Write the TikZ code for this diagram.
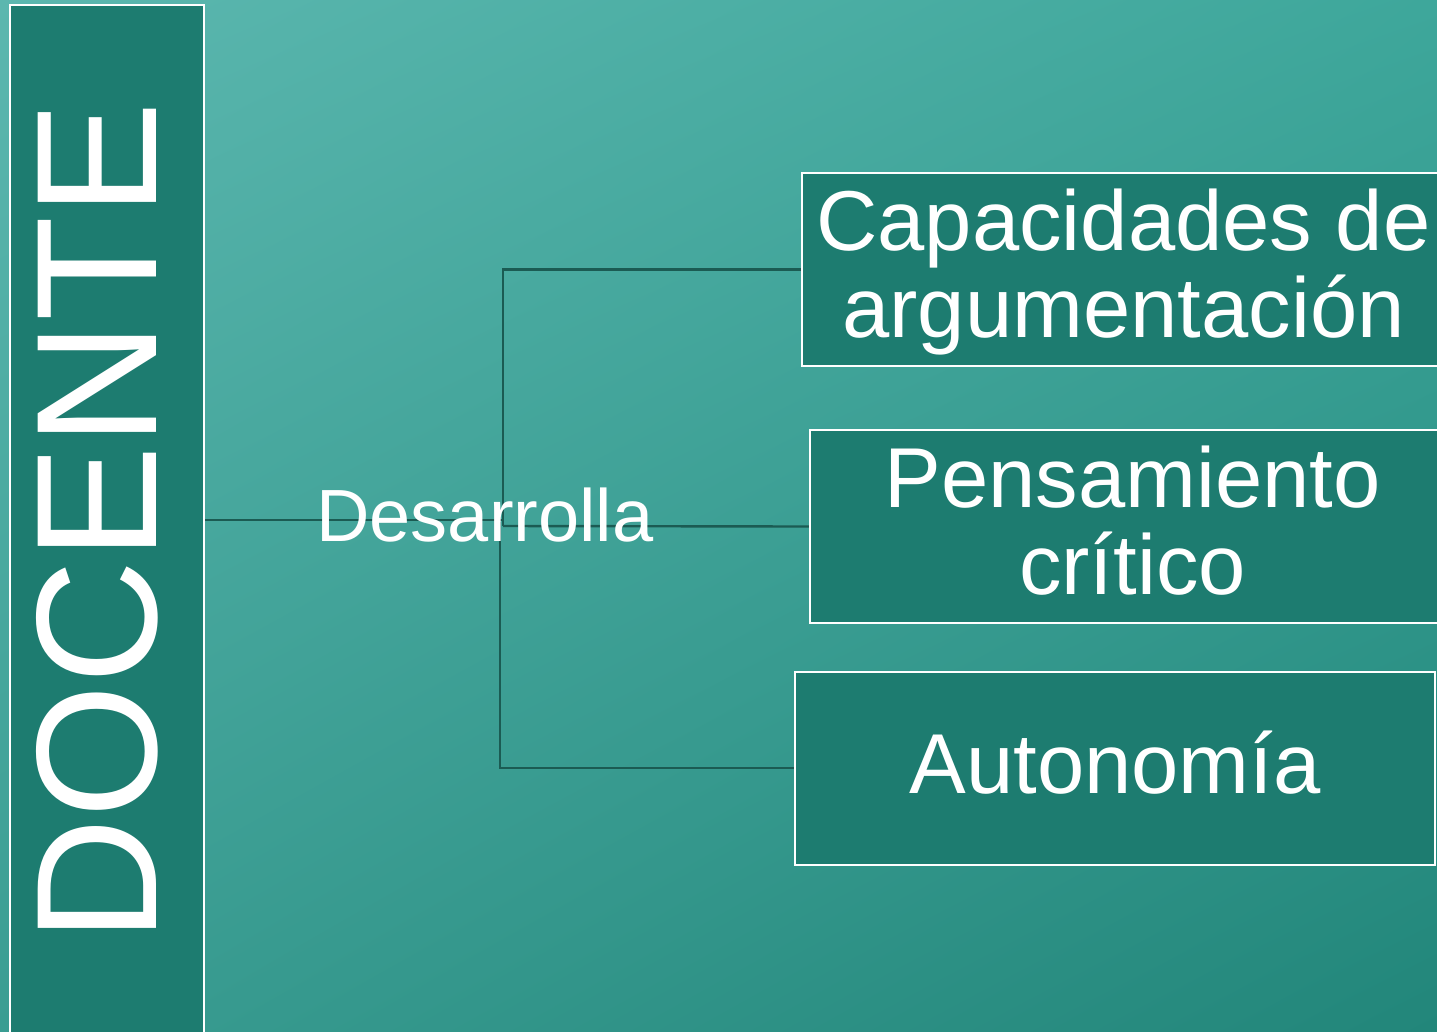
\documentclass[tikz,border=0pt]{standalone}
\usepackage{fontspec}
\setmainfont{Liberation Sans}
\usepackage{xcolor}
\usetikzlibrary{positioning}
\usetikzlibrary{backgrounds}
\usetikzlibrary{shadings}

\definecolor{pizarra}{HTML}{1D7C70}
\definecolor{tiza}{HTML}{1B5B53}
\definecolor{fondoa}{HTML}{5CB7AF}
\definecolor{fondob}{HTML}{3EA79B}
\definecolor{fondoc}{HTML}{3A9D92}
\definecolor{fondod}{HTML}{22867A}

\begin{document}
\begin{tikzpicture}[x=1pt,y=-1pt]
      \tikzstyle{docbox}=[draw=white,fill=pizarra,line width=2pt,minimum width=194pt,minimum height=1040pt,inner sep=0pt]
      \tikzstyle{doctext}=[rotate=90,text=white,inner sep=0pt,font=\fontsize{172}{172}\selectfont]
      \tikzstyle{skillbox}=[draw=white,fill=pizarra,line width=2pt,minimum height=193pt,inner sep=0pt,text=white,align=center,text depth=12pt,font=\fontsize{85}{87}\selectfont]
      \tikzstyle{linkline}=[draw=tiza,line width=2.4pt]

      \useasboundingbox (0,0) rectangle (1437,1031);

      \node [docbox] (docente) at (107,525) {};
      \node [doctext] (docentetxt) at ([xshift=-9.5pt,yshift=2.5pt]docente.center) {DOCENTE};

      \node [skillbox,minimum width=643pt] (cap) at (1123.5,269.5) {Capacidades de\\argumentación};
      \node [skillbox,minimum width=645pt] (pen) at (1132.5,526.5) {Pensamiento\\crítico};
      \node [skillbox,minimum width=640pt] (aut) at (1115,768) {Autonomía};

      \node [text=white,inner sep=0pt,anchor=base,font=\fontsize{74}{74}\selectfont] (desa) at (485,541) {Desarrolla};

      \coordinate (hubleft) at (503,520);
      \coordinate (hubtop) at (503,526);
      \coordinate (hubdown) at (500,522);

      \begin{scope}[on background layer]
        \shade[upper left=fondoa,upper right=fondob,lower left=fondoc,lower right=fondod] (0,0) rectangle (1437,1031);
        \draw [linkline] (docente.east |- hubleft) -- (hubleft);
        \draw [linkline] (hubtop) |- (cap.west);
        \draw [linkline] (hubtop) -- (pen.west);
        \draw [linkline] (hubdown) |- (aut.west);
      \end{scope}
    \end{tikzpicture}
\end{document}
